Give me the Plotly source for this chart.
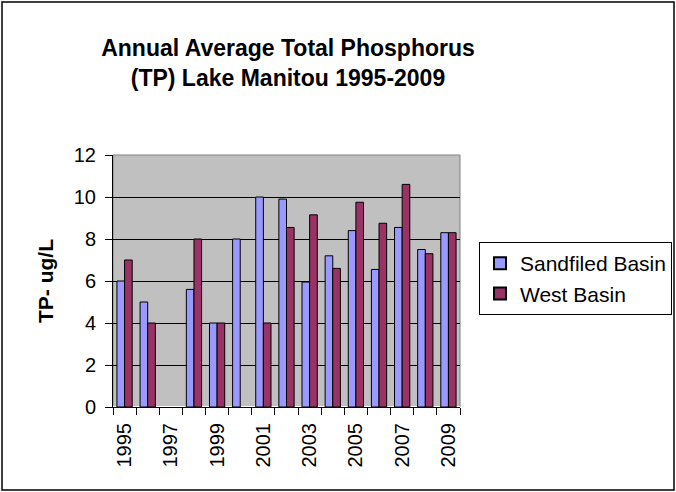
import plotly.graph_objects as go

years = [str(y) for y in range(1995, 2010)]
sandfiled = [6.0, 5.0, None, 5.6, 4.0, 8.0, 10.0, 9.9, 5.95, 7.2, 8.4, 6.55, 8.55, 7.5, 8.3]
west = [7.0, 4.0, None, 8.0, 4.0, None, 4.0, 8.55, 9.15, 6.6, 9.75, 8.75, 10.6, 7.3, 8.3]
tick_text = [y if (int(y) - 1995) % 2 == 0 else "" for y in years]

W, H = 676, 492
L, R, T, B = 113, 216, 155, 85
pw, ph = W - L - R, H - T - B

fig = go.Figure()
fig.add_trace(go.Bar(x=years, y=sandfiled, name="Sandfiled Basin",
                     marker=dict(color="#9999FF", line=dict(color="black", width=1))))
fig.add_trace(go.Bar(x=years, y=west, name="West Basin",
                     marker=dict(color="#993366", line=dict(color="black", width=1))))

font = "Liberation Sans, Arial, sans-serif"
fig.update_layout(
    width=W, height=H,
    margin=dict(l=L, r=R, t=T, b=B, pad=0, autoexpand=False),
    paper_bgcolor="white", plot_bgcolor="#C0C0C0",
    barmode="group", bargap=0.34, bargroupgap=0,
    font=dict(family=font, color="black", size=20),
    title=dict(text="<b>Annual Average Total Phosphorus<br>(TP) Lake Manitou 1995-2009</b>",
               x=288 / W, xanchor="center", y=1 - 56 / H, yanchor="middle",
               font=dict(size=23, family=font)),
    xaxis=dict(type="category", tickmode="array", tickvals=years, ticktext=tick_text,
               tickangle=-90, tickson="boundaries", ticks="outside", ticklen=7,
               tickcolor="black", showline=True, linecolor="black", linewidth=1,
               showgrid=False, tickfont=dict(size=20), ticklabelstandoff=7),
    yaxis=dict(range=[0, 12], dtick=2, ticks="outside", ticklen=7, tickcolor="black",
               showline=True, linecolor="black", linewidth=1,
               showgrid=True, gridcolor="black", gridwidth=1,
               tickfont=dict(size=20), ticklabelstandoff=5,
               title=dict(text="<b>TP- ug/L</b>", font=dict(size=21), standoff=14)),
    legend=dict(xref="container", yref="container", x=479 / W, xanchor="left",
                y=1 - 242 / H, yanchor="top",
                bordercolor="black", borderwidth=1, bgcolor="white",
                font=dict(size=21), itemsizing="constant", tracegroupgap=2),
    showlegend=True,
)

# plot area border (gray on top/right)
fig.add_shape(type="rect", xref="paper", yref="paper", x0=0, x1=1, y0=0, y1=1,
              line=dict(color="#808080", width=1), layer="below")
# outer chart border
fig.add_shape(type="rect", xref="paper", yref="paper",
              x0=(2 - L) / pw, x1=(W - 2 - L) / pw,
              y0=-(B - 2) / ph, y1=1 + (T - 2) / ph,
              line=dict(color="black", width=1.5))

fig.write_html("out.html", config={"displayModeBar": False},
               post_script="document.body.style.margin='0';document.body.style.padding='0';")
